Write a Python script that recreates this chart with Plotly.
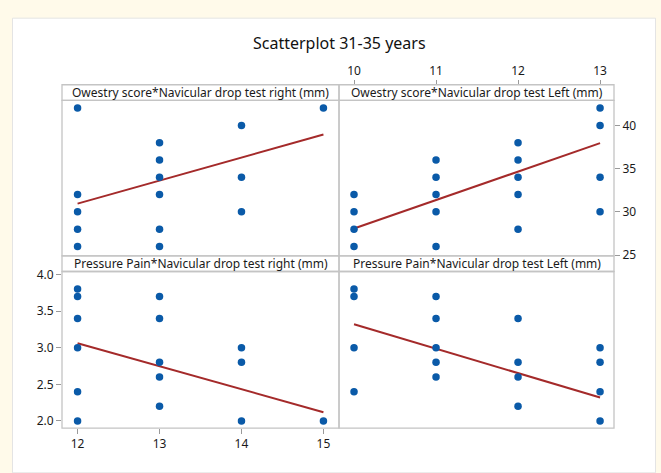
import plotly.graph_objects as go

W, H = 661, 473

# ---------------- data ----------------
ndt_right_ow = [12, 12, 12, 12, 12, 13, 13, 13, 13, 13, 13, 14, 14, 14, 15]
owestry_r = [42, 32, 30, 28, 26, 38, 36, 34, 32, 28, 26, 40, 34, 30, 42]
fit_r_ow_x = [12, 15]
fit_r_ow_y = [30.95, 38.94]

ndt_left_ow = [10, 10, 10, 10, 11, 11, 11, 11, 11, 12, 12, 12, 12, 12, 13, 13, 13, 13]
owestry_l = [32, 30, 28, 26, 36, 34, 32, 30, 26, 38, 36, 34, 32, 28, 42, 40, 34, 30]
fit_l_ow_x = [10, 13]
fit_l_ow_y = [28.07, 37.95]

ndt_right_pp = [12, 12, 12, 12, 12, 12, 13, 13, 13, 13, 13, 14, 14, 14, 15]
pain_r = [3.8, 3.7, 3.4, 3.0, 2.4, 2.0, 3.7, 3.4, 2.8, 2.6, 2.2, 3.0, 2.8, 2.0, 2.0]
fit_r_pp_x = [12, 15]
fit_r_pp_y = [3.06, 2.12]

ndt_left_pp = [10, 10, 10, 10, 11, 11, 11, 11, 11, 12, 12, 12, 12, 13, 13, 13, 13]
pain_l = [3.8, 3.7, 3.0, 2.4, 3.7, 3.4, 3.0, 2.8, 2.6, 3.4, 2.8, 2.6, 2.2, 3.0, 2.8, 2.4, 2.0]
fit_l_pp_x = [10, 13]
fit_l_pp_y = [3.32, 2.32]

panel_titles = [
    "Owestry score*Navicular drop test right (mm)",
    "Owestry score*Navicular drop test Left (mm)",
    "Pressure Pain*Navicular drop test right (mm)",
    "Pressure Pain*Navicular drop test Left (mm)",
]
x_right_ticks = [12, 13, 14, 15]
x_left_ticks = [10, 11, 12, 13]
y_ow_ticks = [25, 30, 35, 40]
y_pp_ticks = [2.0, 2.5, 3.0, 3.5, 4.0]

# ---------------- styling ----------------
FONT = "Noto Sans"
BLUE = "#0a5aa8"
RED = "#a42a2a"
FRAME = "#c4c4c4"
TXT = "#1a1a1a"


def px(x):
    return x / W


def py(y):
    return 1 - y / H


L, M, R = 62, 339, 614
T_HDR, T_TOP, MID, B_HDR, BOT = 81, 97, 257, 273, 434

fig = go.Figure()

panels = [
    (ndt_right_ow, owestry_r, fit_r_ow_x, fit_r_ow_y, "x", "y"),
    (ndt_left_ow, owestry_l, fit_l_ow_x, fit_l_ow_y, "x2", "y2"),
    (ndt_right_pp, pain_r, fit_r_pp_x, fit_r_pp_y, "x3", "y3"),
    (ndt_left_pp, pain_l, fit_l_pp_x, fit_l_pp_y, "x4", "y4"),
]
for xs, ys, fx, fy, xa, ya in panels:
    fig.add_trace(go.Scatter(x=fx, y=fy, mode="lines", xaxis=xa, yaxis=ya,
                             line=dict(color=RED, width=2), showlegend=False,
                             hoverinfo="skip"))
    fig.add_trace(go.Scatter(x=xs, y=ys, mode="markers", xaxis=xa, yaxis=ya,
                             marker=dict(color=BLUE, size=7.5), showlegend=False))

xr_right = [11.81, 15.19]
xr_left = [9.817, 13.17]
yr_ow = [24.9, 42.9]
yr_pp = [1.903, 4.04]

common = dict(showgrid=False, zeroline=False, showline=False,
              tickfont=dict(family=FONT, size=12, color=TXT),
              ticks="outside", ticklen=5, tickcolor="#9a9a9a", tickwidth=1)
none = dict(showgrid=False, zeroline=False, showline=False, showticklabels=False, ticks="")

fig.update_layout(
    xaxis=dict(domain=[px(L), px(M)], range=xr_right, anchor="y", **none),
    yaxis=dict(domain=[py(MID), py(T_TOP)], range=yr_ow, anchor="x", **none),
    xaxis2=dict(domain=[px(M), px(R)], range=xr_left, anchor="free", side="top",
                position=py(T_HDR), tickvals=x_left_ticks, **common),
    yaxis2=dict(domain=[py(MID), py(T_TOP)], range=yr_ow, anchor="x2", side="right",
                tickvals=y_ow_ticks, **common),
    xaxis3=dict(domain=[px(L), px(M)], range=xr_right, anchor="y3",
                tickvals=x_right_ticks, **common),
    yaxis3=dict(domain=[py(BOT), py(B_HDR)], range=yr_pp, anchor="x3",
                tickvals=y_pp_ticks, tickformat=".1f", **common),
    xaxis4=dict(domain=[px(M), px(R)], range=xr_left, anchor="y4", **none),
    yaxis4=dict(domain=[py(BOT), py(B_HDR)], range=yr_pp, anchor="x4", **none),
)

shapes = []
# outer card
shapes.append(dict(type="rect", xref="paper", yref="paper", x0=px(12.5), x1=px(655.5),
                   y0=py(480), y1=py(12.5), fillcolor="white",
                   line=dict(color="#e4e4e4", width=1), layer="below"))
# panel frames and header strips
for x0, x1, yh, yt, yb in [(L, M, T_HDR, T_TOP, MID), (M, R, T_HDR, T_TOP, MID),
                           (L, M, MID, B_HDR, BOT), (M, R, MID, B_HDR, BOT)]:
    shapes.append(dict(type="rect", xref="paper", yref="paper", x0=px(x0), x1=px(x1),
                       y0=py(yt), y1=py(yh), line=dict(color=FRAME, width=1.3)))
    shapes.append(dict(type="rect", xref="paper", yref="paper", x0=px(x0), x1=px(x1),
                       y0=py(yb), y1=py(yt), line=dict(color=FRAME, width=1.3)))

annotations = [dict(text="Scatterplot 31-35 years", x=px(339), y=py(38), xref="paper",
                    yref="paper", showarrow=False, xanchor="center", yanchor="middle",
                    font=dict(family=FONT, size=16, color="#111111"))]
for title, (x0, x1, y0, y1) in zip(panel_titles, [(L, M, T_HDR, T_TOP), (M, R, T_HDR, T_TOP),
                                                  (L, M, MID, B_HDR), (M, R, MID, B_HDR)]):
    annotations.append(dict(text=title, x=px((x0 + x1) / 2), y=py((y0 + y1) / 2),
                            xref="paper", yref="paper", showarrow=False,
                            xanchor="center", yanchor="middle",
                            font=dict(family=FONT, size=12, color=TXT)))

fig.update_layout(
    width=W, height=H, margin=dict(l=0, r=0, t=0, b=0),
    paper_bgcolor="#fffaea", plot_bgcolor="white",
    shapes=shapes, annotations=annotations, showlegend=False,
    font=dict(family=FONT),
)

fig.write_html("out.html")
